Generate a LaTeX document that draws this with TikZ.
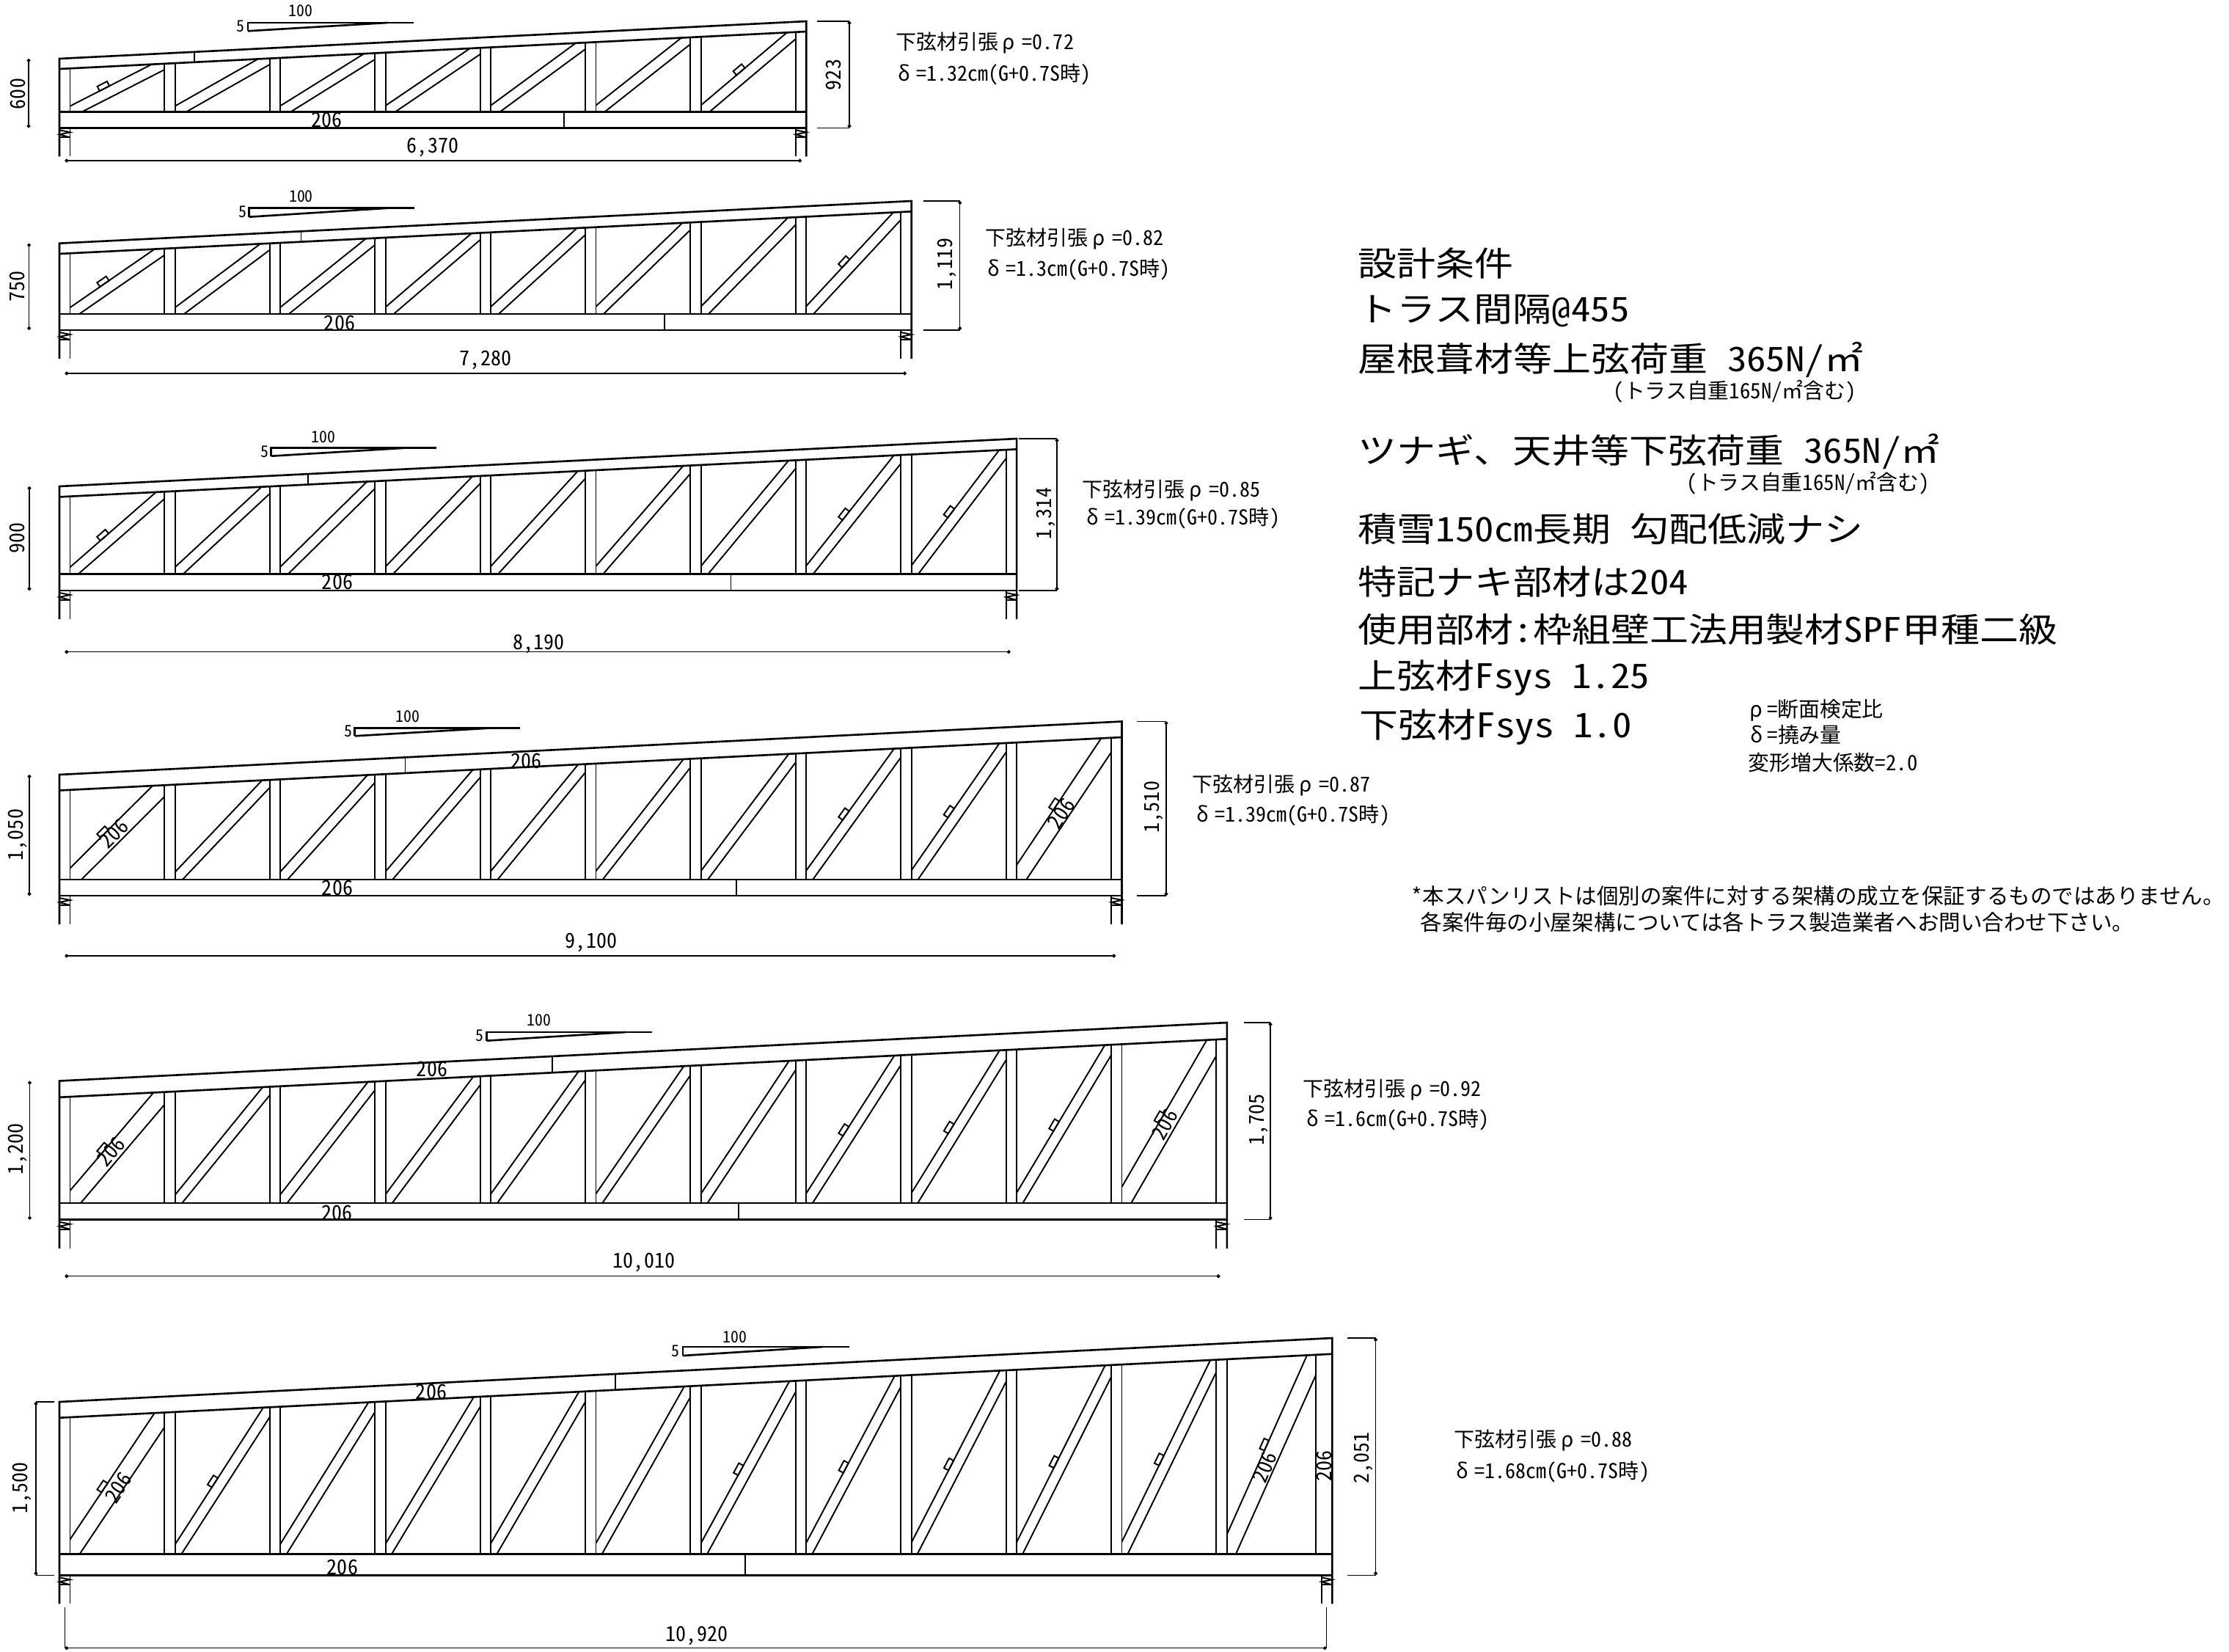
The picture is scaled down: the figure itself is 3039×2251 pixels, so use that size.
\documentclass[tikz,border=0pt]{standalone}
\usepackage{fontspec}
\setmainfont{Noto Sans CJK JP}[RawFeature=+hwid]
\newfontfamily\bigjp{Noto Sans CJK JP}[FakeStretch=1.15,RawFeature=+hwid]
\usetikzlibrary{arrows.meta}
\newcommand{\grho}{\kern.2em ρ\kern.35em}
\newcommand{\gdelta}{δ\kern.3em}

% bottom y, panels, top left y, top right y, top chord depth, bottom chord depth,
% top splice x, bottom splice x, panels with a plate
\newcommand{\truss}[9]{
    \pgfmathsetmacro{\xend}{81+#2*143.4+14.5}
    \pgfmathsetmacro{\rslope}{(#3-#4)/(\xend-81)}
    \pgfmathsetmacro{\sw}{#2==12 ? 22 : 14.5}
    \pgfmathsetmacro{\yb}{#1-#6}
    % the chords
    \draw[chord] (81,#1+39) -- (81,#3) -- (\xend,#4) -- (\xend,#1+39);
    \draw[chord] (81,\yb) -- (\xend,\yb);
    \draw[chord] (81,#1) -- (\xend,#1);
    \draw[chord] (81,#3+#5) -- (\xend,#4+#5);
    \draw[member] (#7,{#3-(#7-81)*\rslope}) -- (#7,{#3+#5-(#7-81)*\rslope});
    \draw[member] (#8,\yb) -- (#8,#1);
    % the bearings
    \foreach \bx in {81,\xend-14.5} {
        \draw[member] (\bx+14.5,#1) -- (\bx+14.5,#1+39);
        \draw[member] (\bx,#1+39) -- (\bx,#1);
        \draw[member] (\bx,#1+13) -- (\bx+14.5,#1+13);
        \draw[member] (\bx,#1+3) -- (\bx+14.5,#1+6) -- (\bx,#1+9) -- (\bx+14.5,#1+13);
    }
    % the panels
    \foreach \jj in {1,...,#2} {
        \pgfmathsetmacro{\xl}{81+(\jj-1)*143.4+14.5}
        \pgfmathsetmacro{\xr}{\jj==#2 ? \xend-\sw : 81+\jj*143.4}
        \pgfmathsetmacro{\yt}{#3+#5-(\xr-81)*\rslope}
        \pgfmathsetmacro{\kk}{(\yb-\yt)/(\xr-\xl)}
        \pgfmathsetmacro{\ang}{atan(\kk)}
        \pgfmathsetmacro{\hw}{(#5>20 && (\jj==1 || \jj==#2)) ? 11 : 7.2}
        \pgfmathsetmacro{\dv}{\hw/cos(\ang)}
        \pgfmathsetmacro{\uu}{\dv/(\kk-\rslope)}
        \draw[member] (\xl,\yb) -- (\xl,{#3+#5-(\xl-81)*\rslope});
        \draw[member] (\xr,\yb) -- (\xr,\yt);
        \draw[member] (\xl,\yb-\dv) -- (\xr-\uu,\yt+\uu*\rslope);
        \draw[member] ({\xl+\hw/sin(\ang)},\yb) -- (\xr,\yt+\dv);
        \foreach \mk in {#9} {
            \ifnum\mk=\jj
                \pgfmathsetmacro{\cn}{cos(\ang)}
                \pgfmathsetmacro{\sn}{sin(\ang)}
                \pgfmathsetmacro{\mo}{\jj==1 ? 47 : 54}
                \draw[member] ({\xl+\mo-7.5*\cn},{\yb-\dv-\kk*\mo+7.5*\sn}) -- ++({15*\cn},{-15*\sn})
                    -- ++({-7*\sn},{-7*\cn}) -- ++({-15*\cn},{15*\sn}) -- cycle;
            \fi
        }
    }
}
% bottom y, top left y, top right y, left x, tick x, right x, span y, span end x
\newcommand{\dims}[8]{
    \draw[dim] (#4,#2) -- (#4,#1);
    \draw[dim] (#6,#3) -- (#6,#1);
    \draw[tick] (#5,#3) -- (#6,#3);
    \draw[tick] (#5,#1) -- (#6,#1);
    \draw[dim] (88.4,#7) -- (#8,#7);
}
\newcommand{\pitchmark}[4]{
    \draw[chord] (#1,#4) -- (#1,#3) -- (#2,#3);
    \draw[chord] (#1,#4) -- ({#1+0.84*(#2-#1)},#3);
}

\begin{document}
\begin{tikzpicture}[x=0.01cm,y=-0.01cm,
    every node/.style={inner sep=0pt},
    chord/.style={line width=0.75pt},
    member/.style={line width=0.55pt},
    dim/.style={line width=0.35pt,{Circle[length=1.4pt]}-{Circle[length=1.4pt]}},
    tick/.style={line width=0.35pt},
    lab/.style={font=\fontsize{7.97pt}{8pt}\selectfont},
    small/.style={font=\fontsize{6.2pt}{7pt}\selectfont},
    big/.style={font=\bigjp\fontsize{13.1pt}{14pt}\selectfont,anchor=west},
    note/.style={font=\fontsize{8.2pt}{9pt}\selectfont,anchor=west},
    notice/.style={font=\fontsize{8.4pt}{9pt}\selectfont,anchor=west},
    res/.style={lab,anchor=west}
    ]
    \useasboundingbox (0,0) rectangle (3039,2251);

    \truss{174.3}{7}{80}{29}{14}{21.6}{265}{769}{1,7}
    \truss{450}{8}{331.7}{274}{14.3}{22}{410.5}{905.7}{1,8}
    \truss{805}{9}{663}{598}{14.4}{22.3}{420}{996.5}{1,8,9}
    \truss{1221}{10}{1056}{983.5}{21.5}{22}{552.5}{1003.7}{1,8,9,10}
    \truss{1662.7}{11}{1473.5}{1394}{22.3}{22.7}{752.7}{1006.8}{1,8,9,10,11}
    \truss{2147.3}{12}{1911}{1824}{21.7}{29}{839}{1016}{1,2,7,8,9,10,11,12}

    % the dimensions
    \dims{174.3}{80}{29}{39}{1114}{1158}{219}{1093}
    \dims{450}{331.7}{274}{39.6}{1259}{1308.7}{509}{1235.8}
    \dims{805}{663}{598}{40}{1389}{1441}{888.7}{1377.7}
    \dims{1221}{1056}{983.5}{40}{1550}{1590}{1303}{1521}
    \dims{1662.7}{1473.5}{1394}{40.5}{1696}{1732}{1739.7}{1663.5}
    \dims{2147.3}{1911}{1824}{49}{1836.7}{1875.5}{2246.7}{1808.7}
    \draw[tick] (49,1911) -- (73.7,1911);
    \draw[tick] (49,2147.3) -- (73.7,2147.3);
    \draw[tick] (88.4,2190.7) -- (88.4,2246.7);
    \draw[tick] (1808.7,2190.7) -- (1808.7,2246.7);

    % the slope marks
    \pitchmark{338}{564}{31}{42.3}
    \pitchmark{339.8}{565}{283.7}{295.7}
    \pitchmark{369.7}{594.7}{610.3}{621.7}
    \pitchmark{483.7}{708.7}{992.3}{1003.3}
    \pitchmark{663.5}{889}{1407}{1418.7}
    \pitchmark{931}{1158}{1836}{1848}

    \node[small] (run1) at (410,15) {100};
    \node[small] (rise1) at (328,35.7) {5};
    \node[small] (run2) at (410.5,268) {100};
    \node[small] (rise2) at (331,289) {5};
    \node[small] (run3) at (441,595.7) {100};
    \node[small] (rise3) at (360.5,615.7) {5};
    \node[small] (run4) at (556,976.7) {100};
    \node[small] (rise4) at (475,996.7) {5};
    \node[small] (run5) at (735,1391) {100};
    \node[small] (rise5) at (654,1411.7) {5};
    \node[small] (run6) at (1002,1823) {100};
    \node[small] (rise6) at (921,1842) {5};

    % the dimension labels
    \node[lab,rotate=90] (heel1) at (24.5,128) {600};
    \node[lab,rotate=90] (end1) at (1136.6,102) {923};
    \node[lab] (span1) at (590,201) {6,370};
    \node[lab,rotate=90] (heel2) at (23.6,390) {750};
    \node[lab,rotate=90] (end2) at (1291,360) {1,119};
    \node[lab] (span2) at (662,491) {7,280};
    \node[lab,rotate=90] (heel3) at (23,733) {900};
    \node[lab,rotate=90] (end3) at (1426,700) {1,314};
    \node[lab] (span3) at (734.8,877.7) {8,190};
    \node[lab,rotate=90] (heel4) at (24,1138) {1,050};
    \node[lab,rotate=90] (end4) at (1573,1100) {1,510};
    \node[lab] (span4) at (806,1284.7) {9,100};
    \node[lab,rotate=90] (heel5) at (24,1566.7) {1,200};
    \node[lab,rotate=90] (end5) at (1716,1526.7) {1,705};
    \node[lab] (span5) at (878,1721) {10,010};
    \node[lab,rotate=90] (heel6) at (30,2028) {1,500};
    \node[lab,rotate=90] (end6) at (1858.6,1987) {2,051};
    \node[lab] (span6) at (950,2230) {10,920};

    % the member sizes
    \node[lab] (low1) at (445.5,163) {206};
    \node[lab] (low2) at (463,440) {206};
    \node[lab] (low3) at (460,793.7) {206};
    \node[lab] (low4) at (460,1210.7) {206};
    \node[lab] (low5) at (459.5,1653.7) {206};
    \node[lab] (low6) at (467,2136) {206};
    \node[lab] (up4) at (717.5,1037.3) {206};
    \node[lab] (up5) at (589,1457.3) {206};
    \node[lab] (up6) at (588,1897.3) {206};
    \node[lab,rotate=45] (first4) at (155,1136.7) {206};
    \node[lab,rotate=57] (last4) at (1447,1109) {206};
    \node[lab,rotate=50] (first5) at (151,1570) {206};
    \node[lab,rotate=61] (last5) at (1588,1533) {206};
    \node[lab,rotate=56] (first6) at (161.6,2028) {206};
    \node[lab,rotate=68] (last6) at (1724.5,2000) {206};
    \node[lab,rotate=90] (stud6) at (1805,1998) {206};

    % the results
    \node[res] (rho1) at (1220.5,59) {下弦材引張\grho=0.72};
    \node[res] (def1) at (1224,101.7) {\gdelta=1.32cm(G+0.7S時)};
    \node[res] (rho2) at (1343,326) {下弦材引張\grho=0.82};
    \node[res] (def2) at (1346,367.7) {\gdelta=1.3cm(G+0.7S時)};
    \node[res] (rho3) at (1475,669) {下弦材引張\grho=0.85};
    \node[res] (def3) at (1481,706.7) {\gdelta=1.39cm(G+0.7S時)};
    \node[res] (rho4) at (1625,1070.7) {下弦材引張\grho=0.87};
    \node[res] (def4) at (1631,1111.7) {\gdelta=1.39cm(G+0.7S時)};
    \node[res] (rho5) at (1775.7,1485.7) {下弦材引張\grho=0.92};
    \node[res] (def5) at (1781,1526.7) {\gdelta=1.6cm(G+0.7S時)};
    \node[res] (rho6) at (1982,1964) {下弦材引張\grho=0.88};
    \node[res] (def6) at (1985,2006.7) {\gdelta=1.68cm(G+0.7S時)};

    % the design conditions
    \node[big] (c1) at (1851,359) {設計条件};
    \node[big] (c2) at (1851,424) {トラス間隔@455};
    \node[big] (c3) at (1851,491) {屋根葺材等上弦荷重 365N/㎡};
    \node[note] (c3n) at (2199,534) {(トラス自重165N/㎡含む)};
    \node[big] (c4) at (1851,616) {ツナギ、天井等下弦荷重 365N/㎡};
    \node[note] (c4n) at (2299,659) {(トラス自重165N/㎡含む)};
    \node[big] (c5) at (1851,721) {積雪150cm長期 勾配低減ナシ};
    \node[big] (c6) at (1851,793) {特記ナキ部材は204};
    \node[big] (c7) at (1851,858) {使用部材:枠組壁工法用製材SPF甲種二級};
    \node[big] (c8) at (1851,924) {上弦材Fsys 1.25};
    \node[big] (c9) at (1853,991) {下弦材Fsys 1.0};
    \node[note] (k1) at (2385,968) {ρ\kern.2em=断面検定比};
    \node[note] (k2) at (2386,1002) {δ\kern.2em=撓み量};
    \node[note] (k3) at (2383,1040) {変形増大係数=2.0};
    \node[notice] (d1) at (1924,1221) {*本スパンリストは個別の案件に対する架構の成立を保証するものではありません。};
    \node[notice] (d2) at (1936,1257) {各案件毎の小屋架構については各トラス製造業者へお問い合わせ下さい。};
\end{tikzpicture}
\end{document}
